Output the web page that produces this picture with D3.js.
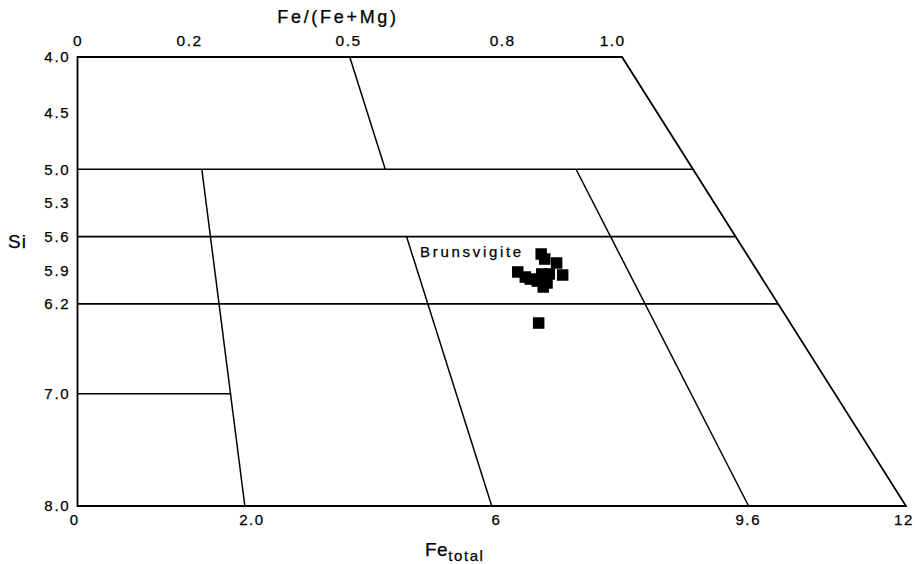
<!DOCTYPE html>
<html>
<head>
  <meta charset="utf-8">
  <title>Chlorite classification (Hey diagram)</title>
  <script src="https://d3js.org/d3.v7.min.js"></script>
  <style>
    body { margin: 0; background: #fff; }
    text { font-family: "Liberation Sans", Arial, Helvetica, sans-serif; fill: #000; stroke: #000; stroke-width: 0.25px; }
  </style>
</head>
<body>
  <svg width="915" height="564"></svg>
  <script>
    // Si (y) ticks
    const siTicks = [4.0, 4.5, 5.0, 5.3, 5.6, 5.9, 6.2, 7.0, 8.0];

    // top axis Fe/(Fe+Mg): label text and where it sits (as ratio along top edge)
    const topTickLabels = ["0", "0.2", "0.5", "0.8", "1.0"];
    const topTickAt = [0, 0.205, 0.497, 0.78, 0.982];

    // bottom axis Fe total: label text and where it sits (as ratio along bottom edge)
    const bottomTickLabels = ["0", "2.0", "6", "9.6", "12"];
    const bottomTickAt = [-0.004, 0.21, 0.505, 0.809, 0.997];

    // field boundaries
    const siLines = [5.0, 5.6, 6.2, 7.0];
    const siLineEnd = [1, 1, 1, 0.202];
    const ratioLines = [0.5, 0.202, 0.5, 0.81];
    const ratioLineFrom = [4.0, 5.0, 5.6, 5.0];
    const ratioLineTo = [5.0, 8.0, 8.0, 8.0];

    // analyses: Fe/(Fe+Mg) and Si
    const ptRatio = [0.693, 0.695, 0.710, 0.647, 0.655, 0.661, 0.681, 0.692, 0.675, 0.683, 0.711, 0.670, 0.647];
    const ptSi = [5.755, 5.80, 5.835, 5.915, 5.96, 5.978, 5.933, 5.933, 6.049, 6.013, 5.942, 5.996, 6.37];

    const svg = d3.select("svg");
    const left = 77.5;

    const y = d3.scaleLinear().domain([4, 8]).range([57, 506]);
    const rightEdge = d3.scaleLinear().domain([4, 8]).range([622, 906]);
    // x position for a given Fe/(Fe+Mg) ratio at a given Si
    const xAt = (r, si) => d3.scaleLinear().domain([0, 1]).range([left, rightEdge(si)])(r);

    const line = d3.line().x(d => xAt(d[0], d[1])).y(d => y(d[1]));

    // frame
    svg.append("path")
      .attr("d", line([[0, 4], [1, 4], [1, 8], [0, 8]]) + "Z")
      .attr("fill", "none")
      .attr("stroke", "#000")
      .attr("stroke-width", 1.8);

    svg.selectAll(".hline")
      .data(siLines)
      .enter()
      .append("path")
      .attr("class", "hline")
      .attr("d", (d, i) => line([[0, d], [siLineEnd[i], d]]))
      .attr("fill", "none")
      .attr("stroke", "#000")
      .attr("stroke-width", 1.7);

    svg.selectAll(".rline")
      .data(ratioLines)
      .enter()
      .append("path")
      .attr("class", "rline")
      .attr("d", (d, i) => line([[d, ratioLineFrom[i]], [d, ratioLineTo[i]]]))
      .attr("fill", "none")
      .attr("stroke", "#000")
      .attr("stroke-width", 1.5);

    // Si axis
    const yAxis = d3.axisLeft(y)
      .tickValues(siTicks)
      .tickSize(0)
      .tickPadding(7)
      .tickFormat(d3.format(".1f"));
    const gy = svg.append("g").attr("transform", `translate(${left},0)`).call(yAxis);
    gy.select(".domain").remove();
    gy.selectAll("text")
      .style("font-family", "Liberation Sans, Arial, sans-serif")
      .attr("font-size", 15)
      .attr("letter-spacing", 1.8)
      .attr("fill", "#000");

    // top axis
    const xTop = d3.scaleLinear().domain([0, 1]).range([left, rightEdge(4)]);
    const topAxis = d3.axisTop(xTop)
      .tickValues(topTickAt)
      .tickSize(0)
      .tickPadding(11)
      .tickFormat((d, i) => topTickLabels[i]);
    const gt = svg.append("g").attr("transform", `translate(0,${y(4)})`).call(topAxis);
    gt.select(".domain").remove();
    gt.selectAll("text")
      .style("font-family", "Liberation Sans, Arial, sans-serif")
      .attr("font-size", 15.5)
      .attr("letter-spacing", 1.5)
      .attr("fill", "#000");

    // bottom axis
    const xBottom = d3.scaleLinear().domain([0, 1]).range([left, rightEdge(8)]);
    const bottomAxis = d3.axisBottom(xBottom)
      .tickValues(bottomTickAt)
      .tickSize(0)
      .tickPadding(8)
      .tickFormat((d, i) => bottomTickLabels[i]);
    const gb = svg.append("g").attr("transform", `translate(0,${y(8)})`).call(bottomAxis);
    gb.select(".domain").remove();
    gb.selectAll("text")
      .style("font-family", "Liberation Sans, Arial, sans-serif")
      .attr("font-size", 15)
      .attr("letter-spacing", 1.6)
      .attr("fill", "#000");

    // axis titles
    svg.append("text")
      .attr("x", 338)
      .attr("y", 23)
      .attr("text-anchor", "middle")
      .attr("font-size", 18)
      .attr("letter-spacing", 2.7)
      .text("Fe/(Fe+Mg)");

    svg.append("text")
      .attr("x", 8)
      .attr("y", 248)
      .attr("font-size", 19)
      .attr("letter-spacing", 1)
      .text("Si");

    const ft = svg.append("text")
      .attr("x", 425)
      .attr("y", 556)
      .attr("font-size", 19)
      .attr("letter-spacing", 0.5);
    ft.append("tspan").text("Fe");
    ft.append("tspan")
      .attr("dy", 5)
      .attr("font-size", 15)
      .attr("letter-spacing", 1.6)
      .text("total");

    // field name
    svg.append("text")
      .attr("x", 420)
      .attr("y", 257)
      .attr("font-size", 15)
      .attr("letter-spacing", 2.7)
      .text("Brunsvigite");

    // points
    const size = 11.5;
    svg.selectAll(".pt")
      .data(ptRatio)
      .enter()
      .append("rect")
      .attr("class", "pt")
      .attr("x", (d, i) => xAt(d, ptSi[i]) - size / 2)
      .attr("y", (d, i) => y(ptSi[i]) - size / 2)
      .attr("width", size)
      .attr("height", size)
      .attr("fill", "#000");
  </script>
</body>
</html>
